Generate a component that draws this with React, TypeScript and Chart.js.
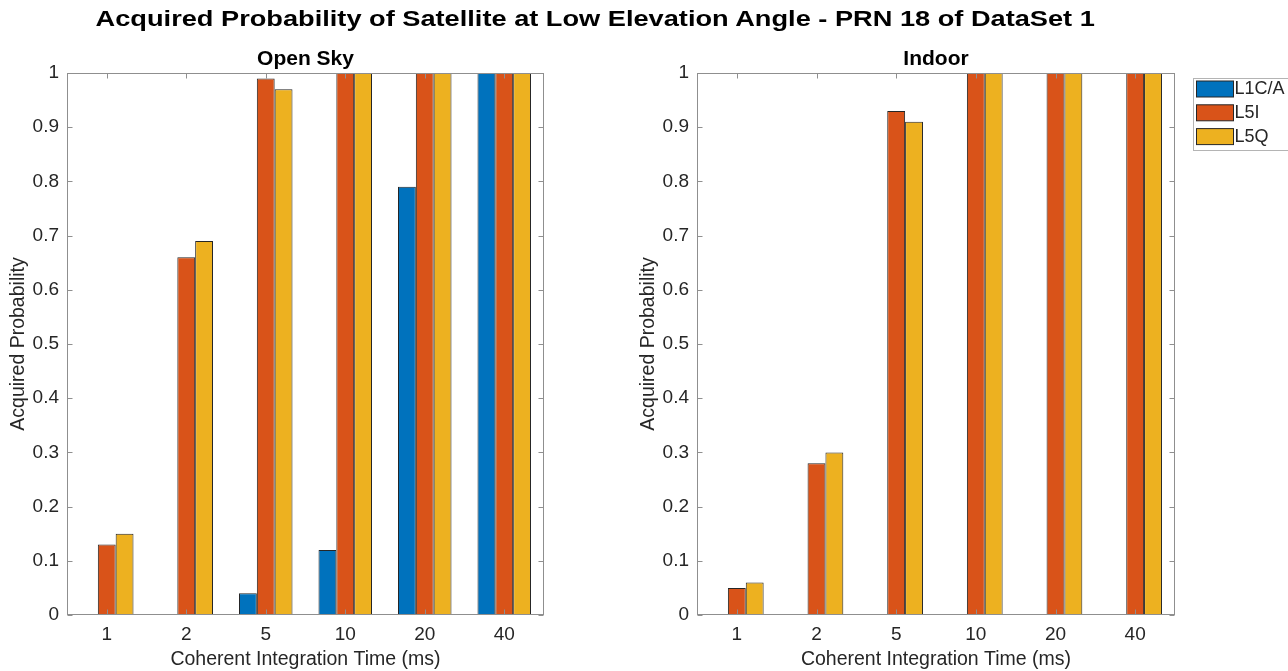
import React, { useEffect, useRef } from 'react';
import { Chart, registerables } from 'chart.js';

Chart.register(...registerables);

// ---------------- data ----------------
const mainTitle = 'Acquired Probability of Satellite at Low Elevation Angle - PRN 18 of DataSet 1';
const categories = ['1', '2', '5', '10', '20', '40'];
const seriesNames = ['L1C/A', 'L5I', 'L5Q'];
const seriesColors = ['#0072BD', '#D95319', '#EDB120'];

const openSkyL1CA = [0, 0, 0.04, 0.12, 0.79, 1];
const openSkyL5I = [0.13, 0.66, 0.99, 1, 1, 1];
const openSkyL5Q = [0.15, 0.69, 0.97, 1, 1, 1];

const indoorL1CA = [0, 0, 0, 0, 0, 0];
const indoorL5I = [0.05, 0.28, 0.93, 1, 1, 1];
const indoorL5Q = [0.06, 0.3, 0.91, 1, 1, 1];

const yTickValues = [0, 0.1, 0.2, 0.3, 0.4, 0.5, 0.6, 0.7, 0.8, 0.9, 1];
const yTickLabels = ['0', '0.1', '0.2', '0.3', '0.4', '0.5', '0.6', '0.7', '0.8', '0.9', '1'];
const xAxisTitle = 'Coherent Integration Time (ms)';
const yAxisTitle = 'Acquired Probability';

// ---------------- styles ----------------
const FONT = '"Liberation Sans", Arial, Helvetica, sans-serif';
const AXIS_GRAY = '#8f8f8f';
const TEXT = '#262626';
const EDGE = '#262626';

const boxPlugin = {
  id: 'matlabBox',
  afterDatasetsDraw(chart: any) {
    const { ctx, chartArea: a, scales } = chart;
    const L = Math.round(a.left) + 0.5;
    const R = Math.round(a.right) - 0.5;
    const T = Math.round(a.top) + 0.5;
    const B = Math.round(a.bottom) - 0.5;
    ctx.save();
    ctx.strokeStyle = AXIS_GRAY;
    ctx.lineWidth = 1;
    ctx.beginPath();
    const tl = 5;
    scales.y.ticks.forEach((t: any) => {
      const py = Math.round(scales.y.getPixelForValue(t.value)) + 0.5;
      ctx.moveTo(L, py); ctx.lineTo(L + tl, py);
      ctx.moveTo(R, py); ctx.lineTo(R - tl, py);
    });
    categories.forEach((_, i) => {
      const px = Math.round(scales.x.getPixelForValue(i)) + 0.5;
      ctx.moveTo(px, B); ctx.lineTo(px, B - tl);
      ctx.moveTo(px, T); ctx.lineTo(px, T + tl);
    });
    ctx.stroke();
    ctx.strokeRect(L, T, R - L, B - T);
    ctx.restore();
  },
};

const legendPlugin = {
  id: 'matlabLegend',
  afterDraw(chart: any) {
    if (!chart.options.plugins.matlabLegend?.show) return;
    const { ctx, chartArea: a } = chart;
    const left = Math.round(a.right) + 18.5;
    const top = Math.round(a.top) + 5.5;
    const pitch = 23.8;
    const n = chart.data.datasets.length;
    ctx.save();
    ctx.fillStyle = '#ffffff';
    ctx.fillRect(left, top, 110, 72);
    ctx.strokeStyle = '#b4b4b4';
    ctx.lineWidth = 1;
    ctx.strokeRect(left, top, 110, 72);
    ctx.font = `18px ${FONT}`;
    ctx.textBaseline = 'middle';
    ctx.textAlign = 'left';
    for (let i = 0; i < n; i++) {
      const ds = chart.data.datasets[i];
      const sy = top + 2.5 + i * pitch;
      ctx.fillStyle = ds.backgroundColor;
      ctx.fillRect(left + 3, sy, 37, 16);
      ctx.strokeStyle = EDGE;
      ctx.strokeRect(left + 3, sy, 37, 16);
      ctx.fillStyle = TEXT;
      ctx.fillText(ds.label, left + 41, sy + 8.5);
    }
    ctx.restore();
  },
};

function makeConfig(title: string, series: number[][], padRight: number, showLegend: boolean): any {
  return {
    type: 'bar',
    data: {
      labels: categories,
      datasets: series.map((d, i) => ({
        label: seriesNames[i],
        data: d,
        backgroundColor: seriesColors[i],
        borderColor: EDGE,
        borderWidth: 1,
        borderSkipped: false,
        categoryPercentage: 0.673,
        barPercentage: 1,
      })),
    },
    options: {
      animation: false,
      responsive: false,
      maintainAspectRatio: false,
      layout: { padding: { left: 0, right: padRight, top: 46.4, bottom: 0 } },
      plugins: {
        legend: { display: false },
        tooltip: { enabled: false },
        title: {
          display: true,
          text: title,
          color: '#000000',
          fullSize: false,
          font: { family: FONT, size: 21, weight: 'bold' },
          padding: { top: 0, bottom: 1.4 },
        },
        matlabLegend: { show: showLegend },
      },
      scales: {
        x: {
          type: 'category',
          grid: { display: false, drawTicks: false },
          border: { display: false },
          ticks: {
            color: TEXT,
            font: { family: FONT, size: 19 },
            padding: 8,
            maxRotation: 0,
            autoSkip: false,
          },
          title: {
            display: true,
            text: xAxisTitle,
            color: TEXT,
            font: { family: FONT, size: 19.5 },
            padding: { top: 0, bottom: 0 },
          },
          afterFit: (s: any) => { s.height = 56; },
        },
        y: {
          type: 'linear',
          min: 0,
          max: 1,
          grid: { display: false, drawTicks: false },
          border: { display: false },
          afterBuildTicks: (s: any) => { s.ticks = yTickValues.map((v) => ({ value: v })); },
          ticks: {
            color: TEXT,
            font: { family: FONT, size: 19 },
            padding: 8,
            autoSkip: false,
            callback: (v: number) => {
              const idx = yTickValues.findIndex((t) => Math.abs(t - v) < 1e-9);
              return idx >= 0 ? yTickLabels[idx] : '';
            },
          },
          title: {
            display: true,
            text: yAxisTitle,
            color: TEXT,
            font: { family: FONT, size: 19.5 },
            padding: { top: 6.6, bottom: 0 },
          },
          afterFit: (s: any) => { s.width = 67; },
        },
      },
    },
    plugins: [boxPlugin, legendPlugin],
  };
}

function Panel(props: { left: number; width: number; title: string; series: number[][]; padRight: number; legend: boolean }) {
  const ref = useRef<HTMLCanvasElement | null>(null);
  useEffect(() => {
    if (!ref.current) return;
    const chart = new Chart(ref.current, makeConfig(props.title, props.series, props.padRight, props.legend));
    return () => chart.destroy();
  }, []);
  return (
    <canvas
      ref={ref}
      width={props.width}
      height={671}
      style={{ position: 'absolute', left: props.left, top: 0, width: props.width, height: 671 }}
    />
  );
}

export default function App() {
  return (
    <div style={{ position: 'absolute', left: 0, top: 0, width: 1288, height: 671, background: '#ffffff', overflow: 'hidden' }}>
      <Panel left={0} width={630} title="Open Sky" series={[openSkyL1CA, openSkyL5I, openSkyL5Q]} padRight={86} legend={false} />
      <Panel left={630} width={658} title="Indoor" series={[indoorL1CA, indoorL5I, indoorL5Q]} padRight={113} legend={true} />
      <div
        style={{
          position: 'absolute',
          left: 0,
          top: 0,
          width: 1191,
          height: 38,
          lineHeight: '38px',
          textAlign: 'center',
          fontFamily: FONT,
          fontWeight: 'bold',
          fontSize: 22,
          color: '#000000',
          whiteSpace: 'nowrap',
        }}
      >
        <span style={{ display: 'inline-block', transform: 'scaleX(1.236)', transformOrigin: 'center' }}>{mainTitle}</span>
      </div>
    </div>
  );
}
